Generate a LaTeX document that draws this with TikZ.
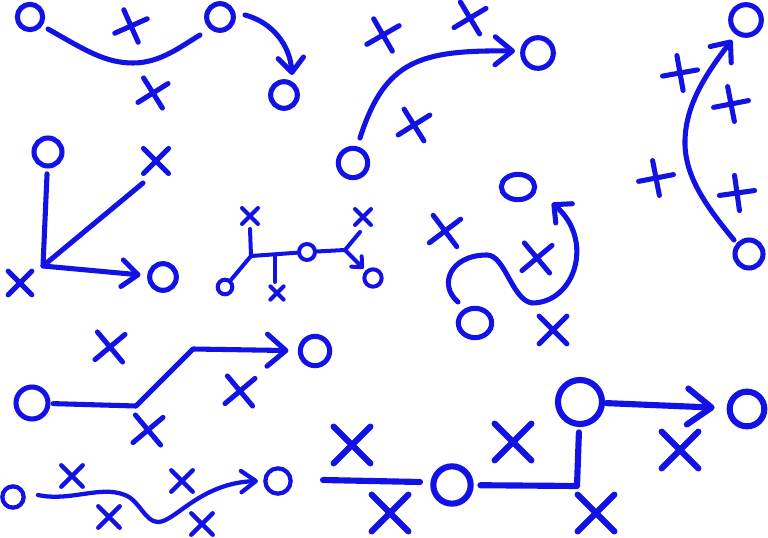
\documentclass[tikz,border=0pt]{standalone}
\usetikzlibrary{arrows.meta,shapes.misc,shapes.geometric}
\definecolor{playblue}{RGB}{18,18,228}
\tikzset{
	route/.style={draw=playblue, line width=3.8pt, line cap=round, line join=round},
	omark/.style={circle, draw=playblue, line width=3.8pt, inner sep=0pt, minimum size=#1},
	oval/.style 2 args={ellipse, draw=playblue, line width=3.8pt, inner sep=0pt, minimum width=#1, minimum height=#2},
	xmark/.style={cross out, draw=playblue, line width=3.8pt, line cap=round, inner sep=0pt, minimum size=#1},
	playtip/.style 2 args={-{Straight Barb[round, length=#1, width=#2]}}
}
\begin{document}
\begin{tikzpicture}[x=0.75pt, y=-0.75pt]
			\useasboundingbox (0,0) rectangle (768,538);
			
			\node[omark=19pt] (a1) at (30,17) {};
			\node[omark=20pt] (a2) at (220,17) {};
			\node[omark=20pt] (a3) at (284,95) {};
			\node[xmark=15pt, rotate=-21] (ax1) at (131,26) {};
			\node[xmark=15pt, rotate=-13] (ax2) at (153,93) {};
			\coordinate (a1s) at (48,29);
			\coordinate (a1b) at (133,63);
			\coordinate (a2e) at (200,35);
			\coordinate (a2s) at (245,15);
			\coordinate (a3e) at (292,75);
			\draw[route] (a1s) .. controls (85,50) and (105,63) .. (a1b) .. controls (160,63) and (180,47) .. (a2e);
			\draw[route, playtip={11pt}{19pt}] (a2s) .. controls (272,22) and (290,45) .. (a3e);
			
			\node[omark=22pt] (b1) at (353,163) {};
			\node[omark=23pt] (b2) at (538,53) {};
			\node[xmark=16pt, rotate=-15] (bx1) at (383,35) {};
			\node[xmark=16pt, rotate=-14] (bx2) at (470,18) {};
			\node[xmark=16pt, rotate=-13] (bx3) at (414,125) {};
			\coordinate (b1s) at (360,138);
			\coordinate (b2e) at (515,51);
			\draw[route, playtip={13pt}{21pt}] (b1s) .. controls (385,60) and (420,50) .. (b2e);
			
			\node[omark=23pt] (c1) at (746,20) {};
			\node[omark=21pt] (c2) at (749,254) {};
			\node[xmark=15pt, rotate=55] (cx1) at (680,73) {};
			\node[xmark=15pt, rotate=56] (cx2) at (731,104) {};
			\node[xmark=15pt, rotate=56] (cx3) at (656,178) {};
			\node[xmark=15pt, rotate=53] (cx4) at (737,193) {};
			\coordinate (c2s) at (734,240);
			\coordinate (cm) at (685,140);
			\coordinate (c1e) at (732,40);
			\draw[route, playtip={12pt}{20pt}] (c2s) .. controls (705,205) and (684,175) .. (cm) .. controls (686,105) and (705,75) .. (c1e);
			
			\node[omark=21pt] (d1) at (48,152) {};
			\node[omark=20pt] (d2) at (163,277) {};
			\node[xmark=15pt] (dx1) at (156,161) {};
			\node[xmark=14pt] (dx2) at (20,283) {};
			\coordinate (dv) at (43,266);
			\coordinate (d3) at (143,183);
			\draw[route, shorten <=4pt] (d1) -- (dv) -- (d3);
			\draw[route, playtip={12pt}{20pt}, shorten >=5pt] (dv) -- (d2);
			
			\node[omark=11pt, line width=3pt] (e1) at (225,287) {};
			\node[omark=12pt, line width=3pt] (e7) at (307,252) {};
			\node[omark=13pt, line width=3pt] (e9) at (373,278) {};
			\node[xmark=9pt, line width=3pt] (ex1) at (250,216) {};
			\node[xmark=7pt, line width=3pt] (ex2) at (277,293) {};
			\node[xmark=9pt, line width=3pt] (ex3) at (363,217) {};
			\coordinate (e2) at (251,256);
			\coordinate (e3) at (275,255);
			\coordinate (e4) at (345,250);
			\coordinate (e5) at (250,229);
			\coordinate (e6) at (275,282);
			\coordinate (e8) at (360,232);
			\draw[route, line width=3pt] (e1) -- (e2) -- (e5);
			\draw[route, line width=3pt] (e2) -- (e7);
			\draw[route, line width=3pt] (e3) -- (e6);
			\draw[route, line width=3pt] (e7) -- (e4) -- (e8);
			\draw[route, line width=3pt, playtip={6pt}{11pt}, shorten >=2pt] (e4) -- (e9);
			
			\node[oval={25pt}{19pt}] (f1) at (518,187) {};
			\node[oval={25pt}{22pt}] (f2) at (475,323) {};
			\node[xmark=17pt, rotate=-8] (fx1) at (445,231) {};
			\node[xmark=17pt, rotate=-5] (fx2) at (537,258) {};
			\node[xmark=17pt] (fx3) at (553,330) {};
			\coordinate (f2s) at (458,302);
			\coordinate (fa) at (487,255);
			\coordinate (fb) at (532,303);
			\coordinate (f1e) at (552,203);
			\draw[route, playtip={10pt}{19pt}] (f2s) .. controls (438,285) and (450,255) .. (fa) .. controls (505,255) and (512,300) .. (fb) .. controls (575,303) and (595,240) .. (f1e);
			
			\node[omark=24pt] (g1) at (32,403) {};
			\node[omark=22pt] (g4) at (315,351) {};
			\node[xmark=17pt, rotate=-5] (gx1) at (110,347) {};
			\node[xmark=17pt, rotate=-5] (gx2) at (148,430) {};
			\node[xmark=17pt, rotate=-5] (gx3) at (240,391) {};
			\coordinate (g2) at (136,406);
			\coordinate (g3) at (193,349);
			\draw[route, playtip={14pt}{24pt}, shorten <=2pt, shorten >=7pt] (g1) -- (g2) -- (g3) -- (g4);
			
			\node[omark=16pt, line width=3.2pt] (h1) at (13,497) {};
			\node[omark=19pt, line width=3.2pt] (h2) at (278,481) {};
			\node[xmark=13pt, line width=3.2pt] (hx1) at (72,476) {};
			\node[xmark=13pt, line width=3.2pt] (hx2) at (109,517) {};
			\node[xmark=13pt, line width=3.2pt] (hx3) at (182,481) {};
			\node[xmark=13pt, line width=3.2pt] (hx4) at (202,524) {};
			\coordinate (h1s) at (38,495);
			\coordinate (ha) at (125,495);
			\coordinate (hb) at (158,522);
			\coordinate (h2e) at (258,481);
			\draw[route, line width=3.2pt, playtip={11pt}{16pt}] (h1s) .. controls (70,502) and (100,485) .. (ha) .. controls (140,501) and (145,522) .. (hb) .. controls (175,522) and (200,483) .. (h2e);
			
			\node[omark=28pt, line width=4.6pt] (i1) at (452,485) {};
			\node[omark=33pt, line width=4.6pt] (i2) at (580,402) {};
			\node[omark=26pt, line width=4.6pt] (i3) at (747,409) {};
			\node[xmark=23pt, line width=4.6pt] (ix1) at (352,445) {};
			\node[xmark=23pt, line width=4.6pt] (ix2) at (390,513) {};
			\node[xmark=23pt, line width=4.6pt] (ix3) at (513,442) {};
			\node[xmark=23pt, line width=4.6pt] (ix4) at (596,513) {};
			\node[xmark=23pt, line width=4.6pt] (ix5) at (680,450) {};
			\coordinate (i0s) at (323,480);
			\coordinate (i0e) at (420,482);
			\coordinate (ic) at (577,486);
			\draw[route, line width=4.6pt] (i0s) -- (i0e);
			\draw[route, line width=4.6pt, shorten <=5pt, shorten >=4pt] (i1) -- (ic) -- (i2);
			\draw[route, line width=4.6pt, playtip={18pt}{27pt}, shorten <=1pt, shorten >=9pt] (i2) -- (i3);
\end{tikzpicture}
\end{document}
